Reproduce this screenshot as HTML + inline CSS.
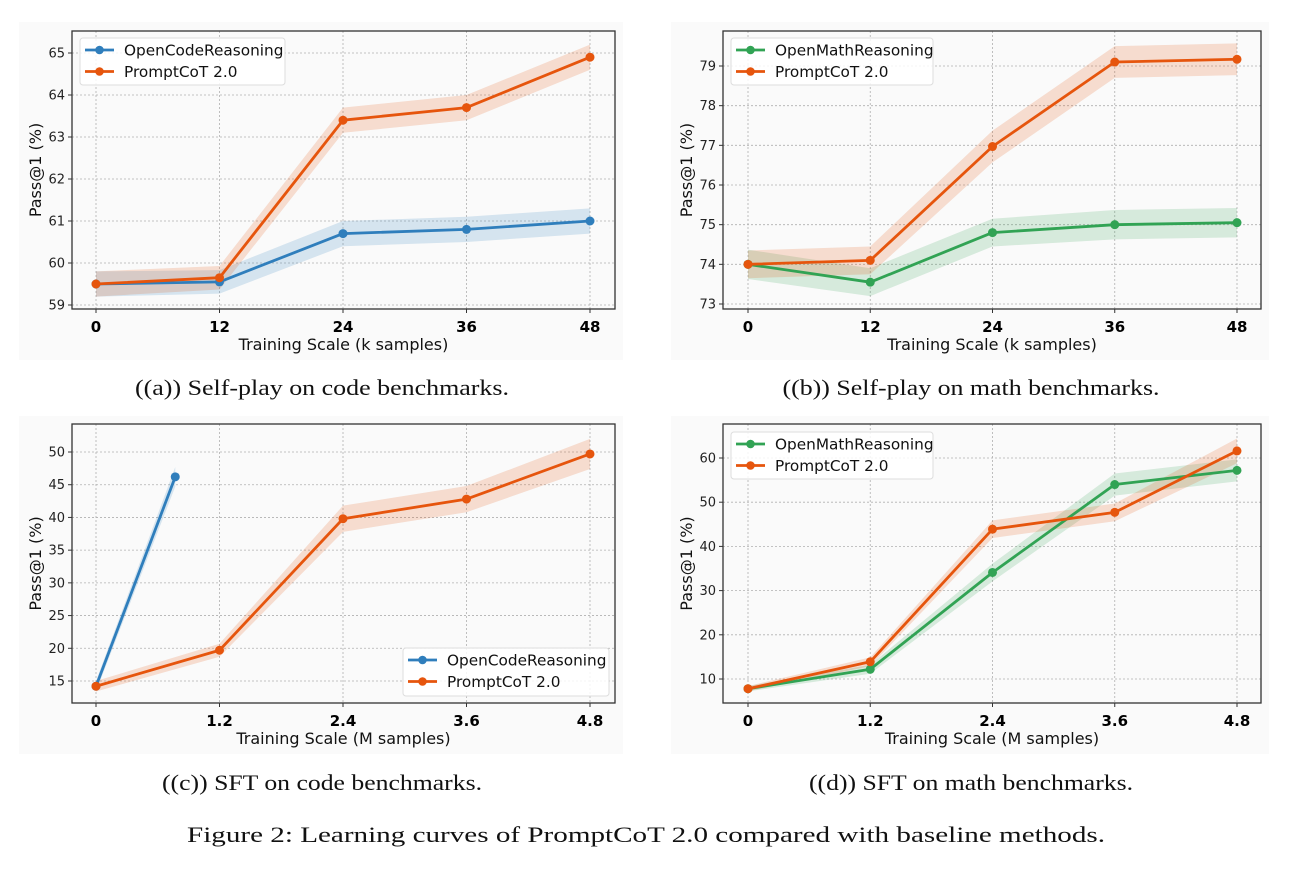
<!DOCTYPE html>
<html><head><meta charset="utf-8">
<style>
body{margin:0;background:#fff;}
svg{display:block;font-family:"DejaVu Sans","Liberation Sans",sans-serif;}
.cap{font-family:"Liberation Serif",serif;font-size:22px;fill:#111;}
</style></head>
<body>
<svg id="fig" width="1308" height="876" viewBox="0 0 1308 876" xmlns="http://www.w3.org/2000/svg">
<rect width="1308" height="876" fill="#fff"/>
</svg>
<script>
// ---- data ----
const xSelf = [0, 12, 24, 36, 48];
const xSelfLabels = ["0", "12", "24", "36", "48"];
const xSft = [0, 1.2, 2.4, 3.6, 4.8];
const xSftLabels = ["0", "1.2", "2.4", "3.6", "4.8"];
const xOcrSft = [0, 0.77];

const aOcr = [59.5, 59.55, 60.7, 60.8, 61.0];
const aOcrErr = [0.3, 0.28, 0.3, 0.3, 0.3];
const aPc = [59.5, 59.65, 63.4, 63.7, 64.9];
const aPcErr = [0.3, 0.28, 0.3, 0.3, 0.3];
const aYTicks = [59, 60, 61, 62, 63, 64, 65];

const bOmr = [74.0, 73.55, 74.8, 75.0, 75.05];
const bOmrErr = [0.37, 0.35, 0.35, 0.37, 0.37];
const bPc = [74.0, 74.1, 76.97, 79.1, 79.17];
const bPcErr = [0.35, 0.35, 0.4, 0.4, 0.4];
const bYTicks = [73, 74, 75, 76, 77, 78, 79];

const cOcr = [14.2, 46.2];
const cOcrErr = [0.8, 1.5];
const cPc = [14.2, 19.7, 39.8, 42.8, 49.7];
const cPcErr = [0.8, 1.0, 2.0, 2.0, 2.3];
const cYTicks = [15, 20, 25, 30, 35, 40, 45, 50];

const dOmr = [7.8, 12.2, 34.1, 54.0, 57.2];
const dOmrErr = [0.6, 1.0, 2.0, 2.5, 2.5];
const dPc = [7.8, 13.9, 43.9, 47.7, 61.6];
const dPcErr = [0.6, 1.0, 2.0, 2.0, 2.8];
const dYTicks = [10, 20, 30, 40, 50, 60];

const BLUE = "#2f7ebc", ORANGE = "#e6550d", GREEN = "#31a354";
const NS = "http://www.w3.org/2000/svg";
const svg = document.getElementById("fig");
function mk(tag, attrs, parent){const e=document.createElementNS(NS,tag);for(const k in attrs)e.setAttribute(k,attrs[k]);(parent||svg).appendChild(e);return e;}

function panel(cfg){
  const g = mk("g", {});
  
  
  const bgR = mk("rect",{x:cfg.bg[0],y:cfg.bg[1],width:cfg.bg[2]-cfg.bg[0],height:cfg.bg[3]-cfg.bg[1],fill:"#fafafa"},g);
  
  
  const [L,T,R,B] = cfg.box;
  const xs = v => cfg.xp[0] + (v - cfg.xv[0]) * (cfg.xp[1]-cfg.xp[0])/(cfg.xv[1]-cfg.xv[0]);
  const ys = v => cfg.yp[0] + (v - cfg.yv[0]) * (cfg.yp[1]-cfg.yp[0])/(cfg.yv[1]-cfg.yv[0]);
  cfg.xt.forEach((v,i)=>{
    const l=mk("line",{x1:xs(v),x2:xs(v),y1:T,y2:B,stroke:"#b0b0b0","stroke-width":0.8,"stroke-dasharray":"2,2"},g);
    
    
    const t=mk("text",{x:xs(v),y:B+23,"text-anchor":"middle","font-size":15,"font-weight":"bold",fill:"#000"},g);
    t.textContent=cfg.xl[i];
    
    
    mk("line",{x1:xs(v),x2:xs(v),y1:B,y2:B+4,stroke:"#333","stroke-width":1},g);
  });
  cfg.yt.forEach(v=>{
    const l=mk("line",{x1:L,x2:R,y1:ys(v),y2:ys(v),stroke:"#b0b0b0","stroke-width":0.8,"stroke-dasharray":"2,2"},g);
    
    
    mk("line",{x1:L-4,x2:L,y1:ys(v),y2:ys(v),stroke:"#333","stroke-width":1},g);
    const t=mk("text",{x:L-7,y:ys(v)+4.5,"text-anchor":"end","font-size":13,fill:"#222"},g);
    t.textContent=String(v);
    
    
  });
  cfg.series.forEach(s=>{
    const up = s.x.map((x,i)=>xs(x)+","+ys(s.y[i]+s.e[i]));
    const dn = s.x.map((x,i)=>xs(x)+","+ys(s.y[i]-s.e[i])).reverse();
    const band=mk("polygon",{points:up.concat(dn).join(" "),fill:s.c,"fill-opacity":0.18},g);
    
    
  });
  cfg.series.forEach(s=>{
    const ln=mk("polyline",{points:s.x.map((x,i)=>xs(x)+","+ys(s.y[i])).join(" "),fill:"none",stroke:s.c,"stroke-width":2.8,"stroke-linejoin":"round"},g);
    
    
    s.x.forEach((x,i)=>{
      const p=mk("circle",{cx:xs(x),cy:ys(s.y[i]),r:4.5,fill:s.c},g);
      
      
    });
  });
  const fr=mk("rect",{x:L,y:T,width:R-L,height:B-T,fill:"none",stroke:"#333","stroke-width":1.3},g);
  
  
  const xlab=mk("text",{x:(L+R)/2,y:B+41,"text-anchor":"middle","font-size":16,fill:"#111"},g);
  xlab.textContent=cfg.xlabel;
  
  
  const cy=(T+B)/2, yx=L-31;
  const ylab=mk("text",{x:yx,y:cy,"text-anchor":"middle","font-size":16,fill:"#111",transform:`rotate(-90 ${yx} ${cy})`},g);
  ylab.textContent="Pass@1 (%)";
  
  
  const [lx,ly,lx2,ly2]=cfg.leg;
  const lg=mk("g",{},g);
  
  
  mk("rect",{x:lx,y:ly,width:lx2-lx,height:ly2-ly,fill:"#fff","fill-opacity":0.85,stroke:"#ddd","stroke-width":1,rx:3},lg);
  cfg.series.forEach((s,i)=>{
    const yy=ly+12+i*21.5;
    const en=mk("g",{},lg);
    
    
    mk("line",{x1:lx+5,x2:lx+34,y1:yy,y2:yy,stroke:s.c,"stroke-width":2.8},en);
    mk("circle",{cx:lx+19.5,cy:yy,r:4.3,fill:s.c},en);
    const t=mk("text",{x:lx+44,y:yy+5.5,"font-size":15.3,fill:"#111"},en);
    t.textContent=s.name;
  });
  const cap=mk("text",{x:cfg.capx,y:cfg.capy,"text-anchor":"middle",class:"cap",textLength:cfg.capw,lengthAdjust:"spacingAndGlyphs"},g);
  cap.textContent=cfg.cap;
  
  
}

panel({name:"panel-a-selfplay-code",bg:[19,22,623,360],box:[72,31,615,309],
  xp:[96,590],xv:[0,48],yp:[305,53],yv:[59,65],xt:xSelf,xl:xSelfLabels,yt:aYTicks,
  xlabel:"Training Scale (k samples)",leg:[80,38,285,85],
  series:[{id:"opencodereasoning",name:"OpenCodeReasoning",c:BLUE,x:xSelf,y:aOcr,e:aOcrErr},
          {id:"promptcot",name:"PromptCoT 2.0",c:ORANGE,x:xSelf,y:aPc,e:aPcErr}],
  cap:"((a)) Self-play on code benchmarks.",capx:322,capy:395,capw:374});
panel({name:"panel-b-selfplay-math",bg:[671,22,1269,360],box:[723,31,1261,309],
  xp:[748,1237],xv:[0,48],yp:[304,66],yv:[73,79],xt:xSelf,xl:xSelfLabels,yt:bYTicks,
  xlabel:"Training Scale (k samples)",leg:[731,38,933,85],
  series:[{id:"openmathreasoning",name:"OpenMathReasoning",c:GREEN,x:xSelf,y:bOmr,e:bOmrErr},
          {id:"promptcot",name:"PromptCoT 2.0",c:ORANGE,x:xSelf,y:bPc,e:bPcErr}],
  cap:"((b)) Self-play on math benchmarks.",capx:971,capy:395,capw:377});
panel({name:"panel-c-sft-code",bg:[19,416,623,754],box:[72,424,615,703],
  xp:[96,590],xv:[0,4.8],yp:[681,452],yv:[15,50],xt:xSft,xl:xSftLabels,yt:cYTicks,
  xlabel:"Training Scale (M samples)",leg:[403,648,609,696],
  series:[{id:"opencodereasoning",name:"OpenCodeReasoning",c:BLUE,x:xOcrSft,y:cOcr,e:cOcrErr},
          {id:"promptcot",name:"PromptCoT 2.0",c:ORANGE,x:xSft,y:cPc,e:cPcErr}],
  cap:"((c)) SFT on code benchmarks.",capx:322,capy:790,capw:320});
panel({name:"panel-d-sft-math",bg:[671,416,1269,754],box:[723,424,1261,703],
  xp:[748,1237],xv:[0,4.8],yp:[679,458],yv:[10,60],xt:xSft,xl:xSftLabels,yt:dYTicks,
  xlabel:"Training Scale (M samples)",leg:[731,432,933,479],
  series:[{id:"openmathreasoning",name:"OpenMathReasoning",c:GREEN,x:xSft,y:dOmr,e:dOmrErr},
          {id:"promptcot",name:"PromptCoT 2.0",c:ORANGE,x:xSft,y:dPc,e:dPcErr}],
  cap:"((d)) SFT on math benchmarks.",capx:971,capy:790,capw:324});

const fc=mk("text",{x:646,y:842,"text-anchor":"middle",class:"cap",textLength:918,lengthAdjust:"spacingAndGlyphs"});
fc.textContent="Figure 2: Learning curves of PromptCoT 2.0 compared with baseline methods.";


</script>
</body></html>
